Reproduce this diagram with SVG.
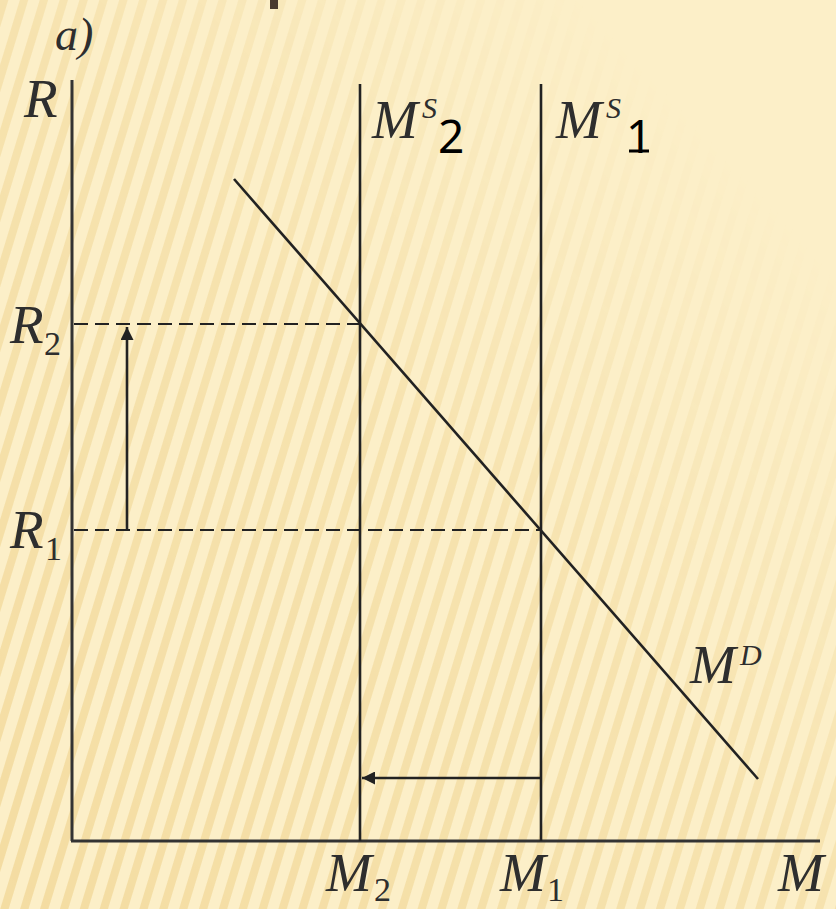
<svg xmlns="http://www.w3.org/2000/svg" width="836" height="909" viewBox="0 0 836 909">
  <defs>
    <pattern id="stripes" width="19" height="19" patternUnits="userSpaceOnUse" patternTransform="rotate(17)">
      <rect x="0" y="0" width="8" height="19" fill="#eed088"/>
    </pattern>
    <linearGradient id="fade" x1="0" y1="1" x2="1" y2="0">
      <stop offset="0" stop-color="#fff" stop-opacity="0.6"/>
      <stop offset="0.5" stop-color="#fff" stop-opacity="0.4"/>
      <stop offset="0.85" stop-color="#fff" stop-opacity="0.0"/>
    </linearGradient>
    <mask id="m">
      <rect width="836" height="909" fill="url(#fade)"/>
    </mask>
    <marker id="ah" viewBox="0 0 10 10" refX="10" refY="5" markerWidth="6" markerHeight="5" orient="auto" markerUnits="strokeWidth">
      <path d="M0,0 L10,5 L0,10 z" fill="#222"/>
    </marker>
    <style>
      .lab { font-family: "Liberation Serif", "Times New Roman", serif; font-style: italic; fill: #2e2e2e; font-size: 55px; }
      .sub { font-family: "Liberation Serif", "Times New Roman", serif; fill: #2e2e2e; font-size: 34px; }
      .sup { font-family: "Liberation Serif", "Times New Roman", serif; font-style: italic; fill: #2e2e2e; font-size: 30px; }
      .ov { font-family: "Noto Sans", "Open Sans", sans-serif; fill: #000; font-size: 46px; }
      .ax { stroke: #333; stroke-width: 3; fill: none; }
      .ln { stroke: #222; stroke-width: 2.6; fill: none; }
      .dash { stroke: #222; stroke-width: 2.2; stroke-dasharray: 14 7; fill: none; }
    </style>
  </defs>

  <g id="background">
    <rect width="836" height="909" fill="#fcefc8"/>
    <rect width="836" height="909" fill="url(#stripes)" mask="url(#m)"/>
    <rect x="270" y="0" width="8" height="9" fill="#4a3b30"/>
  </g>

  <g id="axes">
    <line class="ax" x1="72" y1="80" x2="72" y2="841"/>
    <line class="ax" x1="71" y1="841" x2="820" y2="841"/>
  </g>

  <g id="connectors">
    <line id="ms2" class="ln" x1="360" y1="84" x2="360" y2="841"/>
    <line id="ms1" class="ln" x1="541" y1="84" x2="541" y2="841"/>
    <line id="md" class="ln" x1="234" y1="179" x2="758" y2="779"/>
    <line id="r2-dash" class="dash" x1="74" y1="324" x2="360" y2="324"/>
    <line id="r1-dash" class="dash" x1="74" y1="530" x2="541" y2="530"/>
    <line id="up-arrow" class="ln" x1="127" y1="530" x2="127" y2="327" marker-end="url(#ah)"/>
    <line id="left-arrow" class="ln" x1="541" y1="778" x2="362" y2="778" marker-end="url(#ah)"/>
  </g>

  <g id="labels">
    <text class="lab" x="55" y="50" style="font-size:46px">a)</text>
    <text class="lab" x="24" y="117">R</text>
    <g id="lab-ms2">
      <text class="lab" x="372" y="138">M</text>
      <text class="sup" x="422" y="118">S</text>
      <text class="ov" x="438" y="153">2</text>
    </g>
    <g id="lab-ms1">
      <text class="lab" x="556" y="138">M</text>
      <text class="sup" x="606" y="118">S</text>
      <text class="ov" x="626" y="153">1</text>
      <line x1="629" y1="151" x2="649" y2="151" stroke="#000" stroke-width="3"/>
    </g>
    <g id="lab-r2">
      <text class="lab" x="10" y="343">R</text>
      <text class="sub" x="44" y="355">2</text>
    </g>
    <g id="lab-r1">
      <text class="lab" x="10" y="548">R</text>
      <text class="sub" x="45" y="560">1</text>
    </g>
    <g id="lab-m2">
      <text class="lab" x="326" y="891">M</text>
      <text class="sub" x="374" y="901">2</text>
    </g>
    <g id="lab-m1">
      <text class="lab" x="500" y="891">M</text>
      <text class="sub" x="547" y="901">1</text>
    </g>
    <text class="lab" x="778" y="891">M</text>
    <g id="lab-md">
      <text class="lab" x="690" y="683">M</text>
      <text class="sup" x="740" y="665">D</text>
    </g>
  </g>
</svg>
